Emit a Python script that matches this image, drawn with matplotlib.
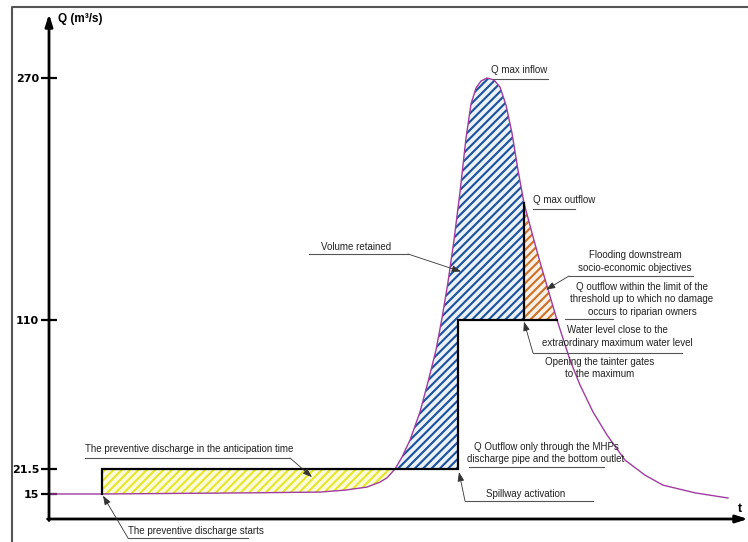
import numpy as np
import matplotlib
matplotlib.use('Agg')
import matplotlib.pyplot as plt
from matplotlib.lines import Line2D

# ---------------- data ----------------
# inflow hydrograph (time in arbitrary units, Q in m3/s, schematic scale)
t_in = [0.0, 5.3, 20.1, 27.1, 29.6, 31.8, 33.1, 33.8, 34.6, 35.3, 36.1, 37.1, 37.9,
        38.7, 39.3, 39.9, 40.5, 41.1, 41.7, 42.2, 42.7, 43.2, 43.8, 44.5, 45.1,
        45.7, 46.3, 46.9, 47.5, 48.3, 49.1, 50.8, 52.1, 53.1, 54.4, 55.8, 57.6,
        59.6, 61.4, 64.6, 67.9]
q_in = [15.0, 15.0, 15.3, 15.5, 16.0, 16.8, 18.1, 19.2, 21.5, 28.6, 38.7, 55.4, 73.2,
        92.2, 111.3, 135.1, 162.9, 194.6, 230.3, 252.8, 263.4, 268.0, 270.0, 268.7,
        264.0, 252.1, 233.6, 209.1, 187.3, 167.5, 148.3, 110.0, 86.2, 71.4, 55.4,
        41.7, 26.8, 19.9, 17.3, 15.3, 12.6]

# outflow (step line)
t_out = [5.3, 5.3, 40.9, 40.9, 50.8]
q_out = [15.0, 21.5, 21.5, 110.0, 110.0]
t_gate = 47.5          # opening the tainter gates to the maximum
t_cross = 34.6         # inflow crosses preventive discharge level
q_prev = 21.5
q_lim = 110.0

ytick_vals = [15, 21.5, 110, 270]
ytick_labels = ['15', '21.5', '110', '270']

# schematic (non-linear) axis: anchors value -> relative height
QA = [-1000, 0, 15, 21.5, 110, 270, 2000]
HA = [-1666.7, 0, 25, 50, 199, 441, 3057.6]


def fwd(q):
    return np.interp(q, QA, HA)


def inv(h):
    return np.interp(h, HA, QA)


# ---------------- figure ----------------
W, H = 748, 542
plt.rcParams['font.family'] = ['Liberation Sans', 'DejaVu Sans']
plt.rcParams['hatch.linewidth'] = 1.5
fig = plt.figure(figsize=(W / 100, H / 100), dpi=100)
fig.patch.set_facecolor('white')


def F(x, y):
    return (x / W, 1 - y / H)


ax = fig.add_axes([49 / W, (H - 519) / H, (W - 49) / W, (519 - 14) / H])
ax.set_yscale('function', functions=(fwd, inv))
ax.set_xlim(0, 69.9)
ax.set_ylim(0, 312.3)
for s in ax.spines.values():
    s.set_visible(False)
ax.set_xticks([])
ax.set_yticks(ytick_vals)
ax.set_yticklabels(ytick_labels)
ax.yaxis.set_minor_locator(matplotlib.ticker.NullLocator())
ax.tick_params(axis='y', direction='inout', length=12, width=1.6, labelsize=8, pad=1)
for lab in ax.get_yticklabels():
    lab.set_fontweight('bold')
    lab.set_family('DejaVu Sans')
ax.patch.set_alpha(0)

t_arr = np.array(t_in)
q_arr = np.array(q_in)

# yellow region
m = (t_arr >= 5.3) & (t_arr <= t_cross)
xs = list(t_arr[m]) + [t_cross, 5.3]
ys = list(q_arr[m]) + [q_prev, q_prev]
ax.fill(xs, ys, facecolor='#fcfcdc', edgecolor='#e6e628', hatch='////', linewidth=0, zorder=1)

# blue region
q_gate = float(np.interp(t_gate, t_in, q_in))
m = (t_arr >= t_cross) & (t_arr <= t_gate)
xs = list(t_arr[m]) + [t_gate, t_out[2], t_out[2], t_cross]
ys = list(q_arr[m]) + [q_lim, q_lim, q_prev, q_prev]
ax.fill(xs, ys, facecolor='#eaf2fb', edgecolor='#1d4f9a', hatch='////', linewidth=0, zorder=1)

# orange region
t_end = t_out[-1]
m = (t_arr >= t_gate) & (t_arr <= t_end)
xs = list(t_arr[m]) + [t_end, t_gate]
ys = list(q_arr[m]) + [q_lim, q_lim]
ax.fill(xs, ys, facecolor='#fdf1e6', edgecolor='#cc6f28', hatch='////', linewidth=0, zorder=1)

# inflow curve
ax.plot(t_in, q_in, color='#a03ca0', lw=1.0, zorder=3, clip_on=False,
        solid_joinstyle='round')
# outflow line
ax.plot(t_out, q_out, color='black', lw=1.6, zorder=4, solid_joinstyle='miter')
ax.plot([t_gate, t_gate], [q_lim, q_gate], color='black', lw=1.6, zorder=4)

# axes arrows
ax.annotate('', xy=(0, 1), xycoords='axes fraction', xytext=(0, -0.003),
            arrowprops=dict(arrowstyle='-|>,head_length=0.7,head_width=0.22', lw=2,
                            color='black', shrinkA=0, shrinkB=0), zorder=5)
ax.annotate('', xy=(1, 0), xycoords='axes fraction', xytext=(-0.002, 0),
            arrowprops=dict(arrowstyle='-|>,head_length=0.7,head_width=0.22', lw=2,
                            color='black', shrinkA=0, shrinkB=0), zorder=5)

fig.text(*F(58, 19), 'Q (m³/s)', ha='left', va='center', fontsize=8.5, fontweight='bold')
fig.text(*F(740, 509), 't', ha='center', va='center', fontsize=9, fontweight='bold')

# frame
fig.add_artist(Line2D([12 / W, 12 / W, 1.0], [0, 1 - 7 / H, 1 - 7 / H],
                      transform=fig.transFigure, color='#555555', lw=1.5))

TXT = dict(fontsize=7, color='#222222', linespacing=1.3)


def txt(x, y, s, ha='center'):
    fig.text(*F(x, y), s, ha=ha, va='center', **TXT)


def uline(x0, x1, y):
    fig.add_artist(Line2D([x0 / W, x1 / W], [1 - y / H, 1 - y / H],
                          transform=fig.transFigure, color='#555555', lw=0.8))


def leader(x, y, tq):
    ax.annotate('', xy=tq, xycoords='data', xytext=F(x, y), textcoords='figure fraction',
                arrowprops=dict(arrowstyle='-|>,head_length=0.55,head_width=0.2',
                                color='#333333', lw=0.6, shrinkA=0, shrinkB=0), zorder=6)


txt(519, 70, 'Q max inflow')
uline(493, 548, 79)

txt(533, 200, 'Q max outflow', ha='left')
uline(533, 575, 209)

txt(321, 247, 'Volume retained', ha='left')
uline(309, 408, 254)
leader(408, 254, (41.2, 142))

txt(635, 261.5, 'Flooding downstream\nsocio-economic objectives')
uline(569, 693, 276)
leader(569, 276, (49.7, 130))

txt(642, 299.5, 'Q outflow within the limit of the\nthreshold up to which no damage\noccurs to riparian owners')
uline(565, 613, 319)

txt(617, 336.5, 'Water level close to the\nextraordinary maximum water level')
uline(533, 682, 353)
leader(533, 353, (t_gate, 109))

txt(600, 368, 'Opening the tainter gates\nto the maximum')

txt(546, 453, 'Q Outflow only through the MHPs\ndischarge pipe and the bottom outlet')
uline(469, 604, 467)

txt(486, 494, 'Spillway activation', ha='left')
uline(465, 593, 501)
leader(465, 501, (41.0, 20.7))

txt(85, 449, 'The preventive discharge in the anticipation time', ha='left')
uline(85, 290, 458)
leader(290, 458, (26.3, 19.4))

txt(128, 531, 'The preventive discharge starts', ha='left')
uline(128, 248, 538)
leader(128, 538, (5.4, 14.0))

fig.savefig('out.png', dpi=100)
